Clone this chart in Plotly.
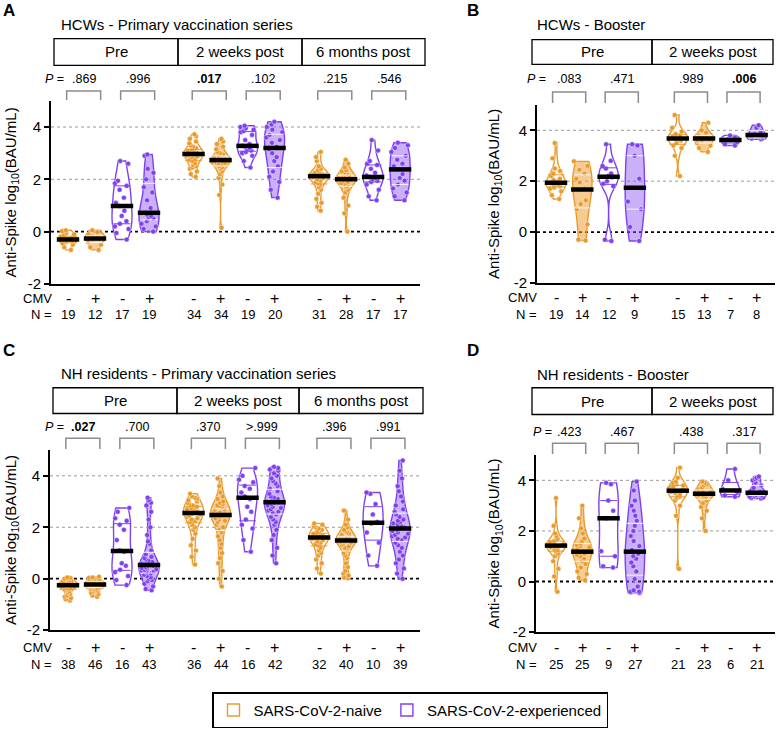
import numpy as np
import plotly.graph_objects as go

# ---------------- data: log10 anti-Spike (BAU/mL) ----------------
# Panel A: HCWs - primary vaccination series (nv = SARS-CoV-2-naive, ex = experienced; neg/pos = CMV)
A_pre_nv_neg = [0.05, 0.02, -0.05, -0.1, -0.15, -0.2, -0.22, -0.25, -0.28, -0.3, -0.3, -0.32, -0.35, -0.38, -0.4, -0.45, -0.5, -0.6, -0.7]
A_pre_nv_pos = [0.05, -0.02, -0.1, -0.18, -0.22, -0.25, -0.28, -0.3, -0.4, -0.5, -0.6, -0.7]
A_pre_ex_neg = [2.7, 2.6, 1.95, 1.85, 1.75, 1.6, 1.3, 1.1, 0.98, 0.8, 0.6, 0.4, 0.3, 0.2, 0.1, -0.05, -0.3]
A_pre_ex_pos = [2.95, 2.9, 2.4, 2.25, 2.0, 1.7, 1.5, 1.2, 0.9, 0.72, 0.65, 0.6, 0.55, 0.5, 0.4, 0.3, 0.2, 0.1, 0.0]
A_2w_nv_neg = [3.72, 3.65, 3.55, 3.45, 3.38, 3.3, 3.25, 3.2, 3.15, 3.1, 3.08, 3.05, 3.02, 3.0, 3.0, 2.98, 2.98, 2.96, 2.95, 2.92, 2.9, 2.88, 2.85, 2.8, 2.75, 2.7, 2.62, 2.55, 2.5, 2.45, 2.4, 2.3, 2.2, 2.1]
A_2w_nv_pos = [3.55, 3.45, 3.35, 3.25, 3.15, 3.05, 3.0, 2.95, 2.9, 2.88, 2.85, 2.82, 2.8, 2.78, 2.76, 2.75, 2.75, 2.72, 2.7, 2.68, 2.65, 2.62, 2.6, 2.58, 2.55, 2.5, 2.45, 2.4, 2.3, 2.2, 2.05, 1.8, 1.4, 0.15]
A_2w_ex_neg = [4.05, 4.0, 3.95, 3.9, 3.85, 3.8, 3.7, 3.5, 3.35, 3.28, 3.25, 3.2, 3.15, 3.1, 3.05, 3.0, 2.9, 2.7, 2.45]
A_2w_ex_pos = [4.2, 4.1, 4.0, 3.9, 3.8, 3.7, 3.6, 3.5, 3.4, 3.25, 3.15, 3.0, 2.85, 2.7, 2.5, 2.3, 2.1, 1.9, 1.6, 1.3]
A_6m_nv_neg = [3.05, 2.85, 2.7, 2.5, 2.4, 2.35, 2.3, 2.25, 2.22, 2.2, 2.18, 2.15, 2.15, 2.13, 2.12, 2.12, 2.1, 2.08, 2.05, 2.0, 1.95, 1.9, 1.85, 1.8, 1.7, 1.6, 1.45, 1.25, 1.1, 0.95, 0.8]
A_6m_nv_pos = [2.75, 2.6, 2.45, 2.35, 2.3, 2.25, 2.2, 2.15, 2.1, 2.08, 2.05, 2.03, 2.02, 2.01, 2.0, 1.98, 1.95, 1.9, 1.85, 1.8, 1.75, 1.7, 1.6, 1.5, 1.3, 1.0, 0.7, 0.0]
A_6m_ex_neg = [3.5, 3.1, 2.7, 2.6, 2.55, 2.4, 2.25, 2.15, 2.09, 2.05, 2.0, 1.95, 1.9, 1.8, 1.6, 1.35, 1.2]
A_6m_ex_pos = [3.4, 3.3, 3.2, 3.05, 2.9, 2.75, 2.6, 2.5, 2.38, 2.2, 2.05, 1.95, 1.8, 1.65, 1.5, 1.35, 1.2]
A_pvals = [".869", ".996", ".017", ".102", ".215", ".546"]
A_bold = [False, False, True, False, False, False]

# Panel B: HCWs - booster
B_pre_nv_neg = [3.5, 2.9, 2.5, 2.4, 2.3, 2.2, 2.1, 2.05, 2.0, 1.94, 1.9, 1.88, 1.85, 1.8, 1.75, 1.7, 1.6, 1.45, 1.3]
B_pre_nv_pos = [2.78, 2.6, 2.45, 2.3, 2.1, 1.95, 1.7, 1.65, 1.25, 1.1, 0.9, 0.3, -0.3, -0.33]
B_pre_ex_neg = [3.45, 2.8, 2.6, 2.5, 2.3, 2.2, 2.15, 2.0, 1.9, 1.8, -0.3, -0.35]
B_pre_ex_pos = [3.45, 3.4, 3.0, 2.1, 1.74, 1.2, 0.9, 0.2, -0.35]
B_2w_nv_neg = [4.6, 4.1, 3.95, 3.85, 3.8, 3.75, 3.7, 3.68, 3.65, 3.6, 3.5, 3.4, 3.3, 3.0, 2.2]
B_2w_nv_pos = [4.3, 4.0, 3.9, 3.8, 3.75, 3.7, 3.68, 3.65, 3.6, 3.5, 3.4, 3.3, 3.15]
B_2w_ex_neg = [3.8, 3.72, 3.65, 3.62, 3.55, 3.45, 3.4]
B_2w_ex_pos = [4.2, 4.1, 3.95, 3.85, 3.78, 3.7, 3.68, 3.65]
B_pvals = [".083", ".471", ".989", ".006"]
B_bold = [False, False, False, True]

# Panel C: NH residents - primary vaccination series
C_pre_nv_neg = [0.05, 0.03, 0.0, -0.02, -0.05, -0.07, -0.1, -0.12, -0.14, -0.16, -0.18, -0.19, -0.2, -0.21, -0.22, -0.23, -0.24, -0.25, -0.25, -0.26, -0.27, -0.28, -0.3, -0.31, -0.33, -0.35, -0.37, -0.4, -0.42, -0.45, -0.5, -0.55, -0.6, -0.65, -0.7, -0.75, -0.8, -0.85]
C_pre_nv_pos = [0.08, 0.05, 0.04, 0.02, 0.0, -0.02, -0.04, -0.06, -0.08, -0.1, -0.11, -0.12, -0.13, -0.14, -0.15, -0.16, -0.17, -0.18, -0.19, -0.2, -0.21, -0.22, -0.23, -0.23, -0.24, -0.25, -0.26, -0.27, -0.28, -0.29, -0.3, -0.31, -0.32, -0.33, -0.35, -0.37, -0.39, -0.41, -0.43, -0.45, -0.48, -0.5, -0.55, -0.6, -0.65, -0.7]
C_pre_ex_neg = [2.75, 2.6, 2.35, 2.25, 2.1, 1.9, 1.5, 1.1, 1.05, 0.6, 0.5, 0.35, 0.25, 0.1, -0.05, -0.25]
C_pre_ex_pos = [3.15, 3.05, 2.95, 2.85, 2.6, 2.3, 2.0, 1.7, 1.45, 1.35, 1.1, 0.95, 0.85, 0.8, 0.75, 0.7, 0.65, 0.62, 0.6, 0.57, 0.55, 0.53, 0.5, 0.48, 0.45, 0.42, 0.4, 0.37, 0.34, 0.3, 0.27, 0.24, 0.2, 0.15, 0.1, 0.05, 0.0, -0.05, -0.1, -0.2, -0.3, -0.4, -0.45]
C_2w_nv_neg = [3.3, 3.2, 3.15, 3.1, 3.05, 3.0, 2.95, 2.9, 2.85, 2.8, 2.75, 2.72, 2.7, 2.66, 2.63, 2.6, 2.58, 2.56, 2.55, 2.52, 2.5, 2.45, 2.4, 2.35, 2.3, 2.25, 2.2, 2.1, 2.0, 1.9, 1.75, 1.55, 1.3, 1.1, 0.85, 0.55]
C_2w_nv_pos = [3.9, 3.6, 3.35, 3.2, 3.1, 3.0, 2.95, 2.9, 2.85, 2.8, 2.75, 2.7, 2.68, 2.65, 2.62, 2.6, 2.57, 2.55, 2.53, 2.51, 2.5, 2.48, 2.47, 2.45, 2.42, 2.4, 2.35, 2.3, 2.25, 2.2, 2.1, 2.0, 1.9, 1.8, 1.65, 1.5, 1.35, 1.2, 1.0, 0.8, 0.6, 0.3, 0.0, -0.3]
C_2w_ex_neg = [4.3, 4.0, 3.85, 3.75, 3.6, 3.5, 3.35, 3.2, 3.1, 2.8, 2.6, 2.3, 2.1, 1.95, 1.5, 1.05]
C_2w_ex_pos = [4.35, 4.3, 4.25, 4.2, 4.1, 4.0, 3.9, 3.8, 3.7, 3.6, 3.5, 3.4, 3.3, 3.2, 3.15, 3.1, 3.05, 3.02, 3.0, 2.99, 2.98, 2.97, 2.95, 2.9, 2.85, 2.8, 2.75, 2.7, 2.65, 2.6, 2.55, 2.5, 2.4, 2.3, 2.2, 2.1, 1.9, 1.7, 1.5, 1.2, 0.9, 0.6]
C_6m_nv_neg = [2.15, 2.1, 2.05, 2.0, 1.95, 1.9, 1.85, 1.8, 1.75, 1.72, 1.7, 1.67, 1.65, 1.63, 1.62, 1.6, 1.6, 1.58, 1.55, 1.5, 1.45, 1.4, 1.35, 1.3, 1.2, 1.1, 1.0, 0.9, 0.75, 0.6, 0.4, 0.2]
C_6m_nv_pos = [2.65, 2.3, 2.1, 2.0, 1.9, 1.85, 1.8, 1.75, 1.7, 1.67, 1.64, 1.61, 1.58, 1.56, 1.54, 1.52, 1.5, 1.5, 1.49, 1.49, 1.48, 1.46, 1.44, 1.42, 1.4, 1.35, 1.3, 1.25, 1.2, 1.1, 1.0, 0.9, 0.8, 0.6, 0.45, 0.3, 0.2, 0.12, 0.05, 0.02]
C_6m_ex_neg = [3.35, 3.3, 2.9, 2.5, 2.2, 2.15, 1.8, 1.4, 0.9, 0.5]
C_6m_ex_pos = [4.6, 4.2, 3.9, 3.6, 3.4, 3.2, 3.0, 2.85, 2.7, 2.6, 2.5, 2.4, 2.3, 2.25, 2.2, 2.15, 2.1, 2.05, 2.0, 1.95, 1.9, 1.85, 1.8, 1.75, 1.7, 1.65, 1.6, 1.55, 1.5, 1.4, 1.3, 1.2, 1.05, 0.9, 0.75, 0.6, 0.4, 0.2, 0.0]
C_pvals = [".027", ".700", ".370", ">.999", ".396", ".991"]
C_bold = [True, False, False, False, False, False]

# Panel D: NH residents - booster
D_pre_nv_neg = [3.3, 2.2, 1.9, 1.8, 1.7, 1.65, 1.6, 1.55, 1.5, 1.47, 1.45, 1.43, 1.42, 1.4, 1.38, 1.35, 1.3, 1.25, 1.2, 1.1, 1.0, 0.8, 0.5, 0.2, -0.4]
D_pre_nv_pos = [3.0, 2.5, 2.1, 1.9, 1.7, 1.6, 1.5, 1.45, 1.4, 1.35, 1.3, 1.25, 1.18, 1.15, 1.1, 1.05, 1.0, 0.9, 0.8, 0.7, 0.55, 0.4, 0.3, 0.15, 0.05]
D_pre_ex_neg = [3.9, 3.85, 3.2, 2.8, 2.5, 1.2, 1.0, 0.6, 0.55]
D_pre_ex_pos = [3.95, 3.6, 3.2, 3.0, 2.8, 2.6, 2.4, 2.2, 2.0, 1.8, 1.6, 1.4, 1.25, 1.18, 1.1, 1.0, 0.9, 0.75, 0.6, 0.4, 0.1, -0.2, -0.35, -0.4, -0.4, -0.42, -0.45]
D_2w_nv_neg = [4.5, 4.1, 3.95, 3.9, 3.85, 3.8, 3.75, 3.7, 3.65, 3.6, 3.59, 3.55, 3.5, 3.45, 3.4, 3.35, 3.3, 3.2, 3.0, 2.6, 0.5]
D_2w_nv_pos = [3.95, 3.9, 3.85, 3.8, 3.7, 3.65, 3.6, 3.55, 3.52, 3.5, 3.48, 3.47, 3.45, 3.42, 3.4, 3.35, 3.3, 3.2, 3.1, 2.95, 2.8, 2.5, 2.0]
D_2w_ex_neg = [4.45, 4.0, 3.65, 3.55, 3.4, 3.35]
D_2w_ex_pos = [4.15, 4.1, 4.05, 4.0, 3.9, 3.8, 3.7, 3.6, 3.55, 3.52, 3.51, 3.5, 3.48, 3.45, 3.42, 3.4, 3.38, 3.35, 3.32, 3.3, 3.28]
D_pvals = [".423", ".467", ".438", ".317"]
D_bold = [False, False, False, False]

TIMES_3 = ["Pre", "2 weeks post", "6 months post"]
TIMES_2 = ["Pre", "2 weeks post"]
CMV_SIGNS = ["-", "+", "-", "+"]
GROUP_NAMES = ["SARS-CoV-2-naive", "SARS-CoV-2-experienced"]
Y_TICKS = [-2, 0, 2, 4]
REF_LINES = [2, 4]

# ---------------- styling / layout ----------------
W, H = 777, 742
FONT = "Liberation Sans, Arial, Helvetica, sans-serif"
ORANGE = "#E99A2C"
PURPLE = "#7F41F0"
FILL = {ORANGE: "rgba(236,160,55,0.55)", PURPLE: "rgba(135,80,240,0.45)"}


def xp(px):
    return px / W


def yp(py):
    return 1 - py / H


def ann(x, y, text, size, xref="paper", yref="paper", xanchor="center", **kw):
    d = dict(x=x, y=y, xref=xref, yref=yref, text=text, showarrow=False,
             xanchor=xanchor, yanchor="middle", font=dict(size=size, color="black"))
    d.update(kw)
    return d


panels = [
    dict(letter="A", title="HCWs - Primary vaccination series", times=TIMES_3,
         data=[[A_pre_nv_neg, A_pre_nv_pos, A_pre_ex_neg, A_pre_ex_pos],
               [A_2w_nv_neg, A_2w_nv_pos, A_2w_ex_neg, A_2w_ex_pos],
               [A_6m_nv_neg, A_6m_nv_pos, A_6m_ex_neg, A_6m_ex_pos]],
         pvals=A_pvals, bold=A_bold,
         xdom=(51, 420), ydom=(102, 287), x0px=68, unit=27.0, gap=4.65,
         hdr=(39, 66), edges=[54, 178, 302, 425], title_xy=(59, 25), letter_xy=(9, 11),
         p_y=80, p_lbl_x=66, br=(92, 101), br_off=0.08, cmv_y=302, n_y=318, lbl_x=54, ytitle_x=11),
    dict(letter="B", title="HCWs - Booster", times=TIMES_2,
         data=[[B_pre_nv_neg, B_pre_nv_pos, B_pre_ex_neg, B_pre_ex_pos],
               [B_2w_nv_neg, B_2w_nv_pos, B_2w_ex_neg, B_2w_ex_pos]],
         pvals=B_pvals, bold=B_bold,
         xdom=(537, 775), ydom=(106, 286), x0px=556, unit=26.3, gap=4.63,
         hdr=(40, 65), edges=[532, 652, 773], title_xy=(535, 25), letter_xy=(473, 11),
         p_y=80, p_lbl_x=548, br=(93, 104), br_off=0.0, cmv_y=301, n_y=318, lbl_x=539, ytitle_x=495),
    dict(letter="C", title="NH residents - Primary vaccination series", times=TIMES_3,
         data=[[C_pre_nv_neg, C_pre_nv_pos, C_pre_ex_neg, C_pre_ex_pos],
               [C_2w_nv_neg, C_2w_nv_pos, C_2w_ex_neg, C_2w_ex_pos],
               [C_6m_nv_neg, C_6m_nv_pos, C_6m_ex_neg, C_6m_ex_pos]],
         pvals=C_pvals, bold=C_bold,
         xdom=(50, 420), ydom=(455, 637), x0px=68, unit=27.0, gap=4.65,
         hdr=(392, 418), edges=[53, 177, 299, 423], title_xy=(59, 378), letter_xy=(9, 354),
         p_y=432, p_lbl_x=66, br=(443, 454), br_off=0.05, cmv_y=655, n_y=672, lbl_x=54, ytitle_x=11),
    dict(letter="D", title="NH residents - Booster", times=TIMES_2,
         data=[[D_pre_nv_neg, D_pre_nv_pos, D_pre_ex_neg, D_pre_ex_pos],
               [D_2w_nv_neg, D_2w_nv_pos, D_2w_ex_neg, D_2w_ex_pos]],
         pvals=D_pvals, bold=D_bold,
         xdom=(536, 775), ydom=(460, 639), x0px=556, unit=26.3, gap=4.63,
         hdr=(392, 419), edges=[532, 652, 773], title_xy=(535, 379), letter_xy=(473, 354),
         p_y=437, p_lbl_x=554, br=(448, 459), br_off=0.0, cmv_y=655, n_y=672, lbl_x=539, ytitle_x=495),
]

fig = go.Figure()
shapes, annotations = [], []
legend_done = set()

for k, P in enumerate(panels):
    sfx = "" if k == 0 else str(k + 1)
    xa, ya = "x" + sfx, "y" + sfx
    xr = [(P["xdom"][0] - P["x0px"]) / P["unit"], (P["xdom"][1] - P["x0px"]) / P["unit"]]
    fig.layout["xaxis" + sfx] = dict(
        domain=[xp(P["xdom"][0]), xp(P["xdom"][1])], range=xr, type="linear",
        showline=True, linecolor="black", linewidth=2, showticklabels=False,
        ticks="", showgrid=False, zeroline=False, anchor=ya, fixedrange=True)
    fig.layout["yaxis" + sfx] = dict(
        domain=[yp(P["ydom"][1]), yp(P["ydom"][0])], range=[-2, 5],
        tickvals=Y_TICKS, ticktext=[str(v) for v in Y_TICKS],
        ticks="outside", ticklen=5, tickwidth=2, tickcolor="black",
        tickfont=dict(size=15, color="black"),
        showline=True, linecolor="black", linewidth=2,
        showgrid=False, zeroline=False, anchor=xa, fixedrange=True)

    # dotted reference lines (grey at 2 and 4, black at 0)
    for v in REF_LINES:
        shapes.append(dict(type="line", xref=xa + " domain", yref=ya, x0=0, x1=1, y0=v, y1=v,
                           line=dict(color="#9a9a9a", width=1, dash="dot"), layer="below"))
    shapes.append(dict(type="line", xref=xa + " domain", yref=ya, x0=0, x1=1, y0=0, y1=0,
                       line=dict(color="black", width=1.8, dash="dot"), layer="below"))

    med_x, med_y, q_x, q_y, q_c = [], [], [], [], []
    pair_i = 0
    for g, group in enumerate(P["data"]):
        for j, vals in enumerate(group):
            pos = g * P["gap"] + j
            color = ORANGE if j < 2 else PURPLE
            cmv_pos = (j % 2 == 1)
            name = GROUP_NAMES[0 if j < 2 else 1]
            show = (not cmv_pos) and (name not in legend_done)
            if show:
                legend_done.add(name)
            fig.add_trace(go.Violin(
                x0=pos, y=vals, xaxis=xa, yaxis=ya, orientation="v",
                width=0.74, scalemode="width", spanmode="hard",
                line=dict(color=color, width=1.4),
                fillcolor=FILL[color] if cmv_pos else "white",
                points="all", pointpos=0, jitter=0.9,
                marker=dict(color=color, size=5, opacity=1,
                            line=dict(width=0.5, color="rgba(255,255,255,0.85)")),
                box_visible=False, meanline_visible=False,
                name=name, legendgroup=name, showlegend=show, hoverinfo="y"))
            q1, q3 = np.percentile(vals, [25, 75])
            for q in (q1, q3):
                q_x.append(pos)
                q_y.append(q)
                q_c.append("rgba(255,255,255,0.85)" if cmv_pos else color)
            med_x.append(pos)
            med_y.append(float(np.median(vals)))
            # CMV sign and N below axis
            annotations.append(ann(pos, yp(P["cmv_y"]), CMV_SIGNS[j], 16, xref=xa))
            annotations.append(ann(pos, yp(P["n_y"]), str(len(vals)), 13, xref=xa))
        # p-values and brackets for the two pairs of this time point
        for pj in range(2):
            c = g * P["gap"] + 2 * pj + 0.5 + P["br_off"]
            ptxt = P["pvals"][pair_i]
            if P["bold"][pair_i]:
                ptxt = "<b>" + ptxt + "</b>"
            annotations.append(ann(c, yp(P["p_y"]), ptxt, 12.5, xref=xa))
            x1, x2 = c - 0.63, c + 0.63
            y_top, y_bot = yp(P["br"][0]), yp(P["br"][1])
            shapes.append(dict(type="path", xref=xa, yref="paper",
                               path=f"M {x1},{y_bot} L {x1},{y_top} L {x2},{y_top} L {x2},{y_bot}",
                               line=dict(color="#8c8c8c", width=1.5)))
            pair_i += 1

    fig.add_trace(go.Scatter(x=q_x, y=q_y, xaxis=xa, yaxis=ya, mode="markers",
                             marker=dict(symbol="line-ew", size=12, color=q_c,
                                         line=dict(width=1, color=q_c)),
                             showlegend=False, hoverinfo="skip"))
    fig.add_trace(go.Scatter(x=med_x, y=med_y, xaxis=xa, yaxis=ya, mode="markers",
                             marker=dict(symbol="line-ew", size=16, color="black",
                                         line=dict(width=4.5, color="black")),
                             showlegend=False, hoverinfo="skip"))

    # header boxes with time-point labels
    e = P["edges"]
    for t, label in enumerate(P["times"]):
        shapes.append(dict(type="rect", xref="paper", yref="paper",
                           x0=xp(e[t]), x1=xp(e[t + 1]), y0=yp(P["hdr"][1]), y1=yp(P["hdr"][0]),
                           line=dict(color="black", width=1.3), fillcolor="rgba(0,0,0,0)"))
        annotations.append(ann(xp((e[t] + e[t + 1]) / 2), yp(sum(P["hdr"]) / 2), label, 15))
    # titles, letters, labels
    annotations.append(ann(xp(P["title_xy"][0]), yp(P["title_xy"][1]), P["title"], 15, xanchor="left"))
    annotations.append(ann(xp(P["letter_xy"][0]), yp(P["letter_xy"][1]),
                           "<b>" + P["letter"] + "</b>", 17))
    annotations.append(ann(xp(P["p_lbl_x"]), yp(P["p_y"]), "<i>P</i> =", 12.5, xanchor="right"))
    annotations.append(ann(xp(P["lbl_x"]), yp(P["cmv_y"]), "CMV", 13, xanchor="right"))
    annotations.append(ann(xp(P["lbl_x"]), yp(P["n_y"]), "N =", 13, xanchor="right"))
    annotations.append(ann(xp(P["ytitle_x"]), yp(sum(P["ydom"]) / 2),
                           "Anti-Spike log<sub>10</sub>(BAU/mL)", 15, textangle=-90))

fig.update_layout(
    width=W, height=H, margin=dict(l=0, r=0, t=0, b=0), autosize=False,
    paper_bgcolor="white", plot_bgcolor="white",
    font=dict(family=FONT, color="black"),
    violinmode="overlay",
    shapes=shapes, annotations=annotations,
    showlegend=True,
    legend=dict(orientation="h", x=xp(212), y=yp(718), xanchor="left", yanchor="middle",
                bordercolor="black", borderwidth=1.5, bgcolor="white",
                font=dict(size=15, color="black"), itemclick=False, itemdoubleclick=False,
                traceorder="normal"),
)

fig.write_html("out.html", config={"displayModeBar": False},
               post_script="document.body.style.margin='0px';")
